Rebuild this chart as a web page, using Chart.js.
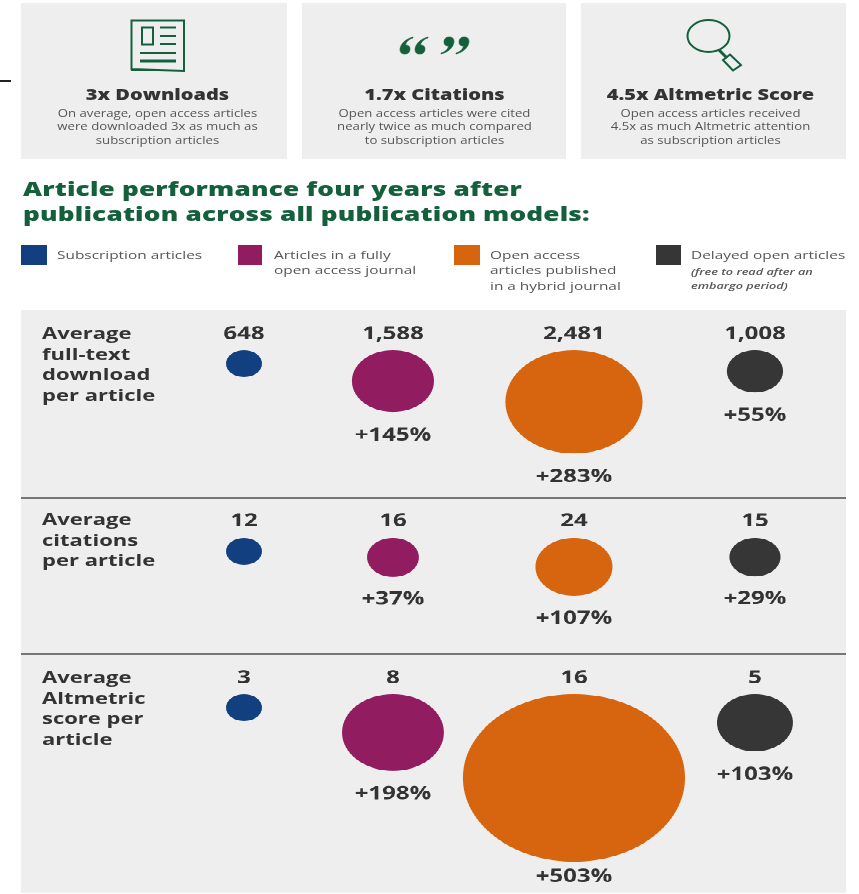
<!DOCTYPE html>
<html>
<head>
<meta charset="utf-8">
<script src="https://cdn.jsdelivr.net/npm/chart.js@4"></script>
<style>
html,body{margin:0;padding:0;background:#fff;}
body{width:859px;height:894px;position:relative;overflow:hidden;font-family:"Open Sans",sans-serif;color:#555;}
#page{position:absolute;left:0;top:0;width:859px;height:894px;filter:blur(.35px);}
/* la source est ecrasee en hauteur : tout ce qui est texte ou canvas passe par .t */
.t{position:absolute;transform:scaleY(.755);transform-origin:0 0;white-space:nowrap;}
.box{position:absolute;background:#eeeeee;}
.card-title{font-weight:800;font-size:20px;line-height:20px;color:#333;text-align:center;}
.card-text{font-size:13.200px;line-height:18px;color:#555;text-align:center;}
.heading{font-weight:800;font-size:26.200px;line-height:33px;color:#14603c;letter-spacing:.18px;}
.legend{font-size:15.400px;line-height:20px;color:#555;}
.legend i{font-size:12.700px;font-weight:600;line-height:18.500px;display:block;margin-top:1.500px;}
.square{position:absolute;height:20px;}
.metric{font-weight:700;font-size:22px;line-height:27.500px;color:#333;}
.rule{position:absolute;left:21px;width:825px;height:2px;background:#777;}
svg{position:absolute;}
</style>
</head>
<body>
<div id="page"></div>
<script>
// valeurs
const categories = ["Subscription articles", "Articles in a fully open access journal", "Open access articles published in a hybrid journal", "Delayed open articles"]
const colours = ["#123f80", "#921c60", "#d7640f", "#363636"]
const downloads = ["648", "1,588", "2,481", "1,008"]
const citations = ["12", "16", "24", "15"]
const altmetric = ["3", "8", "16", "5"]
const downloadsGain = ["", "+145%", "+283%", "+55%"]
const citationsGain = ["", "+37%", "+107%", "+29%"]
const altmetricGain = ["", "+198%", "+503%", "+103%"]
// taille des ronds, relative au rond bleu
const downloadsSize = [1, 2.28, 3.81, 1.56]
const citationsSize = [1, 1.44, 2.14, 1.42]
const altmetricSize = [1, 2.83, 6.17, 2.11]

const squash = 0.755
const dotRadius = 18
const columnAt = [0, 0.823, 1.823, 2.823]
const page = document.getElementById('page')

function addHtml(html) {
    page.insertAdjacentHTML('beforeend', html)
}

//**********les trois cartes du haut************//
function addCard(left, width, textCentre, title, text) {
    addHtml(`<div class="box" style="left:${left}px;top:3px;width:${width}px;height:156px"></div>`)
    addHtml(`<div class="t card-title" style="left:${textCentre - 150}px;top:87px;width:300px">${title}</div>`)
    addHtml(`<div class="t card-text" style="left:${textCentre - 150}px;top:106px;width:300px">${text}</div>`)
}
addHtml('<div style="position:absolute;left:0;top:80px;width:11px;height:2px;background:#222"></div>')
addCard(21, 266, 157.500, '3x Downloads', 'On average, open access articles<br>were downloaded 3x as much as<br>subscription articles')
addCard(302, 264, 434.500, '1.7x Citations', 'Open access articles were cited<br>nearly twice as much compared<br>to subscription articles')
addCard(581, 265, 710.500, '4.5x Altmetric Score', 'Open access articles received<br>4.5x as much Altmetric attention<br>as subscription articles')

addHtml(`<svg style="left:0;top:0" width="859" height="100" fill="none" stroke="#14603c">
<path d="M131.500 20.500H184V71L131.500 69Z" stroke-width="2"/>
<path d="M131 69L184 71L131 71Z" fill="#14603c" stroke="none"/>
<rect x="142" y="27.500" width="11" height="17" stroke-width="2"/>
<path d="M160 27.500H176M160 36H176M160 44H176" stroke-width="2"/>
<path d="M140 53H176" stroke-width="2"/><path d="M140 61H176" stroke-width="3"/>
<g fill="#14603c" stroke="#14603c" stroke-width=".6">
<path id="q" d="M413 37C406 39 401 43 400 49C400 53 402 54 405 54C408 54 410 52 410 49C410 46 408 45 405.500 45C406 42 409 39 413 38ZM428 37C421 39 416 43 415 49C415 53 417 54 420 54C423 54 425 52 425 49C425 46 423 45 420.500 45C421 42 424 39 428 38Z"/>
<use href="#q" transform="rotate(180 434.500 45.500)"/>
</g>
<ellipse cx="708.500" cy="36" rx="21" ry="16" stroke-width="2"/>
<path d="M719 50L727 58" stroke-width="3"/>
<path d="M730 54.500L741 65L733 70.500L723 60Z" stroke-width="2"/>
</svg>`)

//**********titre et legende************//
addHtml('<div class="t heading" style="left:23px;top:176px">Article performance four years after<br>publication across all publication models:</div>')

const legendLeft = [21, 238, 454, 656]
const legendWide = [26, 24, 26, 25]
const legendText = [57, 274, 490, 691]
const legendHtml = ['Subscription articles', 'Articles in a fully<br>open access journal', 'Open access<br>articles published<br>in a hybrid journal', 'Delayed open articles<i>(free to read after an<br>embargo period)</i>']
legendHtml.forEach((txt, i) => {
    addHtml(`<div class="square" style="left:${legendLeft[i]}px;top:245px;width:${legendWide[i]}px;background:${colours[i]}"></div>`)
    addHtml(`<div class="t legend" style="left:${legendText[i]}px;top:248px">${txt}</div>`)
})

//**********le panneau avec les ronds************//
addHtml('<div class="box" style="left:21px;top:310px;width:825px;height:583px"></div>')
addHtml('<div class="rule" style="top:497px"></div>')
addHtml('<div class="rule" style="top:653px"></div>')

const labelPlugin = {
    id: 'labelPlugin',
    afterDatasetsDraw(chart) {
        const ctx = chart.ctx
        const meta = chart.getDatasetMeta(0)
        const ds = chart.data.datasets[0]
        ctx.save()
        ctx.fillStyle = '#333'
        ctx.textAlign = 'center'
        ctx.textBaseline = 'middle'
        ctx.font = '700 24px "Open Sans"'
        meta.data.forEach((pt, i) => {
            const r = ds.data[i].r
            ctx.fillText(ds.valueLabels[i], pt.x, ds.valueY)
            if (ds.gainLabels[i]) {
                ctx.fillText(ds.gainLabels[i], pt.x, pt.y + r + ds.gainGap[i])
            }
        })
        ctx.restore()
    }
}

function addRow(id, top, height, dotTop, metricTop, metric, values, gains, sizes, gainGap) {
    addHtml(`<div class="t metric" style="left:42px;top:${top + metricTop}px">${metric}</div>`)
    addHtml(`<div class="t" style="left:21px;top:${top}px;width:825px;height:${height / squash}px"><canvas id="${id}"></canvas></div>`)
    const h = Math.round(height / squash)
    const ctx = document.getElementById(id)
    ctx.width = 825
    ctx.height = h
    new Chart(ctx, {
        type: 'bubble',
        data: {
            datasets: [{
                label: metric.replace(/<br>/g, ' '),
                data: sizes.map((s, i) => ({ x: columnAt[i], y: dotTop + s * dotRadius, r: s * dotRadius })),
                backgroundColor: colours,
                borderWidth: 0,
                hoverBorderWidth: 0,
                clip: false,
                valueLabels: values,
                gainLabels: gains,
                gainGap: gainGap,
                valueY: 32
            }]
        },
        options: {
            responsive: false,
            animation: false,
            devicePixelRatio: 2,
            events: [],
            layout: { padding: 0, autoPadding: false },
            plugins: { legend: { display: false }, tooltip: { enabled: false } },
            scales: {
                x: { type: 'linear', display: false, bounds: 'data', min: -223 / 181, max: 602 / 181 },
                y: { type: 'linear', display: false, bounds: 'data', reverse: true, min: 0, max: h }
            }
        },
        plugins: [labelPlugin]
    })
}

addRow('rowDownloads', 310, 187, 53, 12, 'Average<br>full-text<br>download<br>per article', downloads, downloadsGain, downloadsSize, [0, 31, 31, 31])
addRow('rowCitations', 497, 157, 54, 11, 'Average<br>citations<br>per article', citations, citationsGain, citationsSize, [0, 30, 30, 30])
addRow('rowAltmetric', 654, 239, 53, 12, 'Average<br>Altmetric<br>score per<br>article', altmetric, altmetricGain, altmetricSize, [0, 31, 20, 31])
</script>
</body>
</html>
